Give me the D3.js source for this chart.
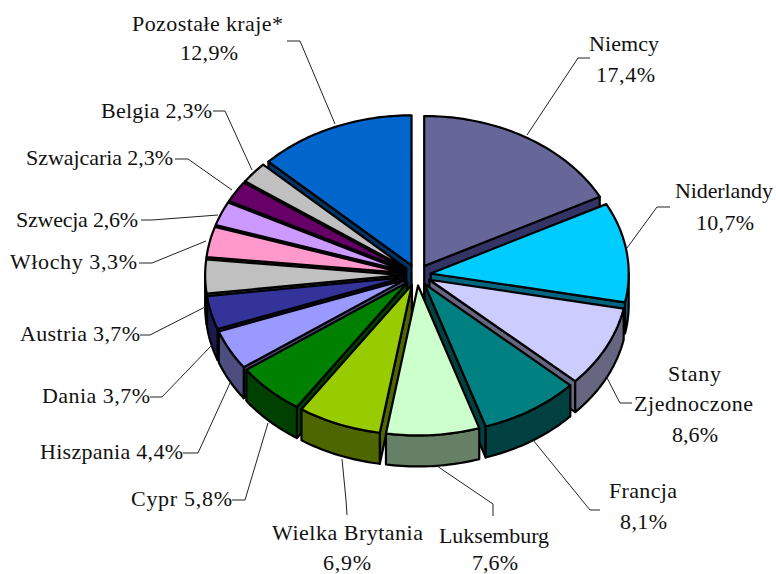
<!DOCTYPE html>
<html><head><meta charset="utf-8">
<script src="https://cdn.jsdelivr.net/npm/d3@7/dist/d3.min.js"></script>
<style>html,body{margin:0;padding:0;background:#fff}svg{display:block}
text{font-family:"Liberation Serif","Times New Roman",serif;font-size:22px;fill:#111}</style>
</head><body><svg id="c" width="776" height="574"></svg>
<script>
const categories=["Niemcy","Niderlandy","Stany Zjednoczone","Francja","Luksemburg","Wielka Brytania","Cypr","Hiszpania","Dania","Austria","Włochy","Szwecja","Szwajcaria","Belgia","Pozostałe kraje*"];
const values=[17.4,10.7,8.6,8.1,7.6,6.9,5.8,4.4,3.7,3.7,3.3,2.6,2.3,2.3,12.9];
const valueLabels=["17,4%","10,7%","8,6%","8,1%","7,6%","6,9%","5,8%","4,4%","3,7%","3,7%","3,3%","2,6%","2,3%","2,3%","12,9%"];
const topColors=["#666699","#00CCFF","#CCCCFF","#008080","#CCFFCC","#99CC00","#008000","#9999FF","#333399","#C0C0C0","#FF99CC","#CC99FF","#660066","#C0C0C0","#0066CC"];
const wallColors=["#333366","#006680","#666680","#004040","#668066","#4D6600","#004000","#4D4D80","#1A1A4D","#606060","#804D66","#664D80","#330033","#606060","#003366"];

// label layout: text lines [left x, right x, baseline y, text] and leader polyline
const labelLayout=[
 {lines:[[589,659,51,"Niemcy"],[596,655,82,"17,4%"]],leader:[[590,58],[578,58],[527,135]]},
 {lines:[[675,773,198,"Niderlandy"],[696,754,230,"10,7%"]],leader:[[670,207],[657,207],[627,248]]},
 {lines:[[668,721,381,"Stany"],[634,753,411,"Zjednoczone"],[672,718,442,"8,6%"]],leader:[[632,403],[620,403],[606,376]]},
 {lines:[[609,677,498,"Francja"],[620,667,529,"8,1%"]],leader:[[600,510],[590,510],[533,440]]},
 {lines:[[439,549,543,"Luksemburg"],[472,518,570,"7,6%"]],leader:[[493,516],[493,504],[437,466]]},
 {lines:[[272,423,540,"Wielka Brytania"],[323,371,570,"6,9%"]],leader:[[347,515],[346,500],[342,459]]},
 {lines:[[131,232,506,"Cypr 5,8%"]],leader:[[232,500],[245,500],[268,423]]},
 {lines:[[40,183,459,"Hiszpania 4,4%"]],leader:[[183,453],[198,453],[230,383]]},
 {lines:[[42,150,403,"Dania 3,7%"]],leader:[[150,397],[162,397],[212,345]]},
 {lines:[[20,140,341,"Austria 3,7%"]],leader:[[140,335],[150,335],[205,307]]},
 {lines:[[10,137,269,"Włochy 3,3%"]],leader:[[139,263],[152,263],[206,241]]},
 {lines:[[16,138,227,"Szwecja 2,6%"]],leader:[[141,220],[152,220],[218,215]]},
 {lines:[[26,173,165,"Szwajcaria 2,3%"]],leader:[[175,159],[188,159],[232,190]]},
 {lines:[[101,212,118,"Belgia 2,3%"]],leader:[[213,111],[225,111],[252,170]]},
 {lines:[[132,283,31,"Pozostałe kraje*"],[180,238,60,"12,9%"]],leader:[[287,41],[300,41],[335,124]]}
];

const cx=417,cy=275,rx=198,ry=150,depth=31,explode=0.07,warp=0.022;
const svg=d3.select("#c");
const arcs=d3.pie().sort(null).endAngle(2*Math.PI*d3.sum(values)/100)(values);
const sx=d3.scaleLinear().domain([-1,1]).range([-rx,rx]);
const sy=d3.scaleLinear().domain([-1,1]).range([-ry,ry]);
const line=d3.line();
// small view correction: the near side of the tilted pie looks turned a little further
const view=a=>a+warp*Math.max(0,-Math.cos(a));
function pt(a,ox,oy,dz){const v=view(a);return [ox+sx(Math.sin(v)),oy+sy(-Math.cos(v))+(dz||0)];}
function samples(a0,a1){const n=Math.max(2,Math.ceil((a1-a0)/0.02));return d3.range(n+1).map(i=>a0+(a1-a0)*i/n);}
function order(d){const m=(d.startAngle+d.endAngle)/2;return -Math.cos(m);}
const sorted=arcs.map((d,i)=>({d,i})).sort((a,b)=>order(a.d)-order(b.d));

const g=svg.append("g");
function poly(pts,fill){
  g.append("path").attr("d",line(pts)+"Z").attr("fill",fill).attr("stroke","#000").attr("stroke-width",2.2).attr("stroke-linejoin","round");
}
sorted.forEach(({d,i})=>{
  const a0=d.startAngle,a1=Math.min(d.endAngle,2*Math.PI);
  const m=view((a0+a1)/2);
  const ox=cx+sx(Math.sin(m)*explode), oy=cy+sy(-Math.cos(m)*explode);
  if(Math.sin(a0)<0){const p=pt(a0,ox,oy);poly([[ox,oy],p,[p[0],p[1]+depth],[ox,oy+depth]],wallColors[i]);}
  if(Math.sin(a1)>0){const p=pt(a1,ox,oy);poly([[ox,oy],p,[p[0],p[1]+depth],[ox,oy+depth]],wallColors[i]);}
  const w0=Math.max(a0,Math.PI/2),w1=Math.min(a1,3*Math.PI/2);
  if(w1>w0){
    const s=samples(w0,w1);
    poly(s.map(a=>pt(a,ox,oy)).concat(s.slice().reverse().map(a=>pt(a,ox,oy,depth))),wallColors[i]);
  }
  poly([[ox,oy]].concat(samples(a0,a1).map(a=>pt(a,ox,oy))),topColors[i]);
});

const lab=svg.append("g");
labelLayout.forEach(l=>{
  lab.append("path").attr("d",line(l.leader)).attr("fill","none").attr("stroke","#222").attr("stroke-width",1);
  l.lines.forEach(t=>lab.append("text").attr("x",t[0]).attr("y",t[2]).attr("textLength",t[1]-t[0]).attr("lengthAdjust","spacing").text(t[3]));
});
</script></body></html>
